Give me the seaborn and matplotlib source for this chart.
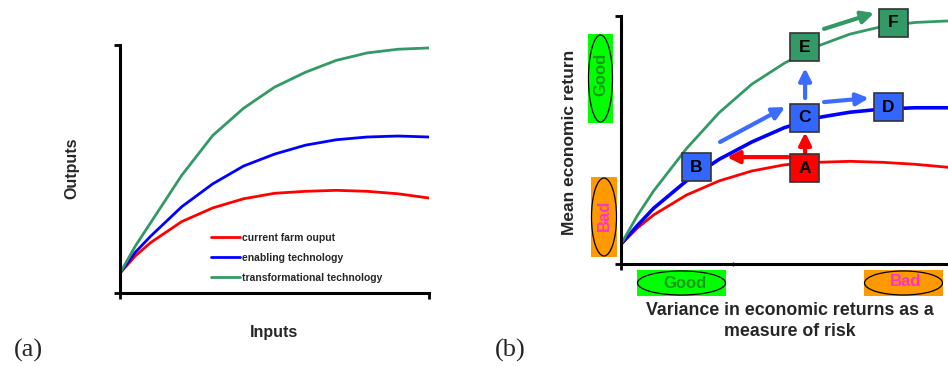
import matplotlib
matplotlib.use("Agg")
import matplotlib.pyplot as plt
from matplotlib.patches import Rectangle, Ellipse
import numpy as np
import pandas as pd
import seaborn as sns

# ---- data -------------------------------------------------------------
inputs = [0, 0.5, 1, 2, 3, 4, 5, 6, 7, 8, 9, 10]

current_farm = [0.8, 1.5, 2.04, 2.88, 3.43, 3.8, 4.02, 4.1, 4.14, 4.1, 4.0, 3.83]
enabling = [0.8, 1.65, 2.3, 3.48, 4.4, 5.12, 5.6, 5.96, 6.18, 6.29, 6.33, 6.29]
transformational = [0.8, 1.9, 2.85, 4.75, 6.35, 7.45, 8.3, 8.9, 9.38, 9.68, 9.83, 9.88]

risk = [0, 0.5, 1, 2, 3, 4, 5, 6, 7, 8, 9, 10]
return_current = [0.8, 1.45, 1.98, 2.78, 3.35, 3.75, 4.0, 4.1, 4.14, 4.1, 4.02, 3.9]
return_enabling = [0.8, 1.55, 2.25, 3.35, 4.22, 4.92, 5.5, 5.9, 6.12, 6.25, 6.3, 6.3]
return_transform = [0.8, 1.95, 2.95, 4.65, 6.1, 7.25, 8.1, 8.78, 9.27, 9.58, 9.74, 9.8]

series_names = ["current farm ouput", "enabling technology", "transformational technology"]
series_colors = ["#ff0000", "#0000ff", "#339966"]

# farm states on the risk/return plane
state_labels = ["A", "B", "C", "D", "E", "F"]
state_risk = [5.61, 2.31, 5.61, 8.17, 5.61, 8.33]
state_return = [3.87, 3.91, 5.89, 6.33, 8.73, 9.72]
state_colors = ["#ff0000", "#3366ff", "#3366ff", "#3366ff", "#339966", "#339966"]

# transitions: (tail risk, tail return, head risk, head return, colour)
moves = [
    (5.63, 4.47, 5.63, 5.31, "#ff0000"),
    (5.11, 4.31, 3.24, 4.31, "#ff0000"),
    (3.03, 4.92, 5.02, 6.33, "#3c6cff"),
    (5.63, 6.69, 5.63, 7.90, "#3c6cff"),
    (6.21, 6.53, 7.58, 6.69, "#3c6cff"),
    (6.21, 9.48, 7.74, 10.12, "#339966"),
]

# ---- style ------------------------------------------------------------
sns.set_theme(style="white")
plt.rcParams["font.family"] = ["Liberation Sans", "DejaVu Sans"]

W, H = 948, 366
fig = plt.figure(figsize=(W / 100, H / 100), dpi=100)


def fx(px):
    return px / W


def fy(py):
    return 1 - py / H


def axes_at(x0, y0, x1, y1):
    return fig.add_axes([fx(x0), fy(y1), (x1 - x0) / W, (y1 - y0) / H])


def style_axes(ax):
    ax.set_xlim(0, 10)
    ax.set_ylim(0, 10)
    for side in ("top", "right"):
        ax.spines[side].set_visible(False)
    for side in ("left", "bottom"):
        ax.spines[side].set_linewidth(2.2)
        ax.spines[side].set_color("black")
    ax.set_xlabel("")
    ax.set_ylabel("")
    ax.tick_params(axis="both", which="major", direction="out", length=4,
                   width=2, color="black", labelleft=False, labelbottom=False,
                   left=True, bottom=True)
    ax.set_facecolor("none")


palette = dict(zip(series_names, series_colors))

# ---- panel (a) --------------------------------------------------------
ax_a = axes_at(120, 45, 429, 293)
df_a = pd.DataFrame({
    "x": inputs * 3,
    "y": current_farm + enabling + transformational,
    "series": np.repeat(series_names, len(inputs)),
})
sns.lineplot(data=df_a, x="x", y="y", hue="series", palette=palette,
             hue_order=series_names, linewidth=2.0, ax=ax_a, legend=True)
style_axes(ax_a)
ax_a.set_xticks([0, 10])
ax_a.set_yticks([0, 10])

handles, labels = ax_a.get_legend_handles_labels()
ax_a.legend(handles, labels, loc="upper left",
            bbox_to_anchor=(fx(211), fy(233)), bbox_transform=fig.transFigure,
            frameon=False, handlelength=2.8, handletextpad=0.2,
            labelspacing=0.95, borderpad=0, borderaxespad=0,
            prop={"family": "Liberation Sans", "weight": "bold", "size": 7.5})

fig.text(fx(72), fy(168), "Outputs", rotation=90, ha="center", va="center",
         fontsize=11.5, fontweight="bold")
fig.text(fx(274), fy(333), "Inputs", ha="center", va="center",
         fontsize=11.5, fontweight="bold")
fig.text(fx(28), fy(350), "(a)", ha="center", va="center", fontsize=19,
         family=["Liberation Serif", "DejaVu Serif"])

# ---- panel (b) --------------------------------------------------------
ax_b = axes_at(621, 16, 948, 264)
df_b = pd.DataFrame({
    "x": risk * 3,
    "y": return_current + return_enabling + return_transform,
    "series": np.repeat(series_names, len(risk)),
})
sns.lineplot(data=df_b, x="x", y="y", hue="series", palette=palette,
             hue_order=series_names, linewidth=2.0, ax=ax_b, legend=False)
for line in ax_b.get_lines():
    if matplotlib.colors.to_hex(line.get_color()) == "#0000ff":
        line.set_linewidth(2.6)
style_axes(ax_b)
ax_b.set_xticks([0])
ax_b.set_yticks([0, 10])
ax_b.set_xticks([3.43], minor=True)
ax_b.tick_params(axis="x", which="minor", direction="inout", length=3,
                 width=1, color="black", bottom=True)

# arrows between states
for x0, y0, x1, y1, c in moves:
    ax_b.annotate("", xy=(x1, y1), xytext=(x0, y0),
                  arrowprops=dict(arrowstyle="-|>,head_length=0.6,head_width=0.3",
                                  color=c, lw=3.0, shrinkA=0, shrinkB=0,
                                  mutation_scale=12),
                  annotation_clip=False)

# state boxes, sized in pixels
ax_px_w, ax_px_h = 327, 248
bw = 29 / ax_px_w * 10
bh = 28 / ax_px_h * 10
for lab, x, y, c in zip(state_labels, state_risk, state_return, state_colors):
    ax_b.add_patch(Rectangle((x - bw / 2, y - bh / 2), bw, bh, facecolor=c,
                             edgecolor="#333333", linewidth=1.2, zorder=5,
                             clip_on=False))
    ax_b.text(x, y, lab, ha="center", va="center", fontsize=12.5,
              fontweight="bold", color="black", zorder=6)

fig.text(fx(570), fy(142), "Mean economic return", rotation=90, ha="center",
         va="center", fontsize=12.5, fontweight="bold")
fig.text(fx(790), fy(321), "Variance in economic returns as a\nmeasure of risk",
         ha="center", va="center", fontsize=12.8, fontweight="bold",
         linespacing=1.35)
fig.text(fx(510), fy(350), "(b)", ha="center", va="center", fontsize=19,
         family=["Liberation Serif", "DejaVu Serif"])


# good / bad markers along both axes
def badge(x0, y0, x1, y1, fill, text, tcolor, rotation, tx=None, ty=None):
    fig.patches.append(Rectangle((fx(x0), fy(y1)), (x1 - x0) / W, (y1 - y0) / H,
                                 transform=fig.transFigure, facecolor=fill,
                                 edgecolor="none", zorder=1))
    fig.patches.append(Ellipse((fx((x0 + x1) / 2), fy((y0 + y1) / 2)),
                               (x1 - x0 - 1) / W, (y1 - y0 - 2) / H,
                               transform=fig.transFigure, facecolor="none",
                               edgecolor="black", linewidth=0.9, zorder=2))
    tx = (x0 + x1) / 2 if tx is None else tx
    ty = (y0 + y1) / 2 if ty is None else ty
    fig.text(fx(tx), fy(ty), text, rotation=rotation, ha="center",
             va="center", fontsize=12, fontweight="bold", color=tcolor,
             zorder=3)


badge(588, 34, 613, 123, "#00ff00", "Good", "#169c16", 90, ty=74)
badge(591, 177, 617, 257, "#ff9900", "Bad", "#ff33cc", 90, ty=215)
badge(637, 270, 726, 296, "#00ff00", "Good", "#169c16", 0, tx=685)
badge(864, 270, 943, 296, "#ff9900", "Bad", "#ff33cc", 0, tx=906, ty=281)

fig.savefig("out.png", dpi=100)
